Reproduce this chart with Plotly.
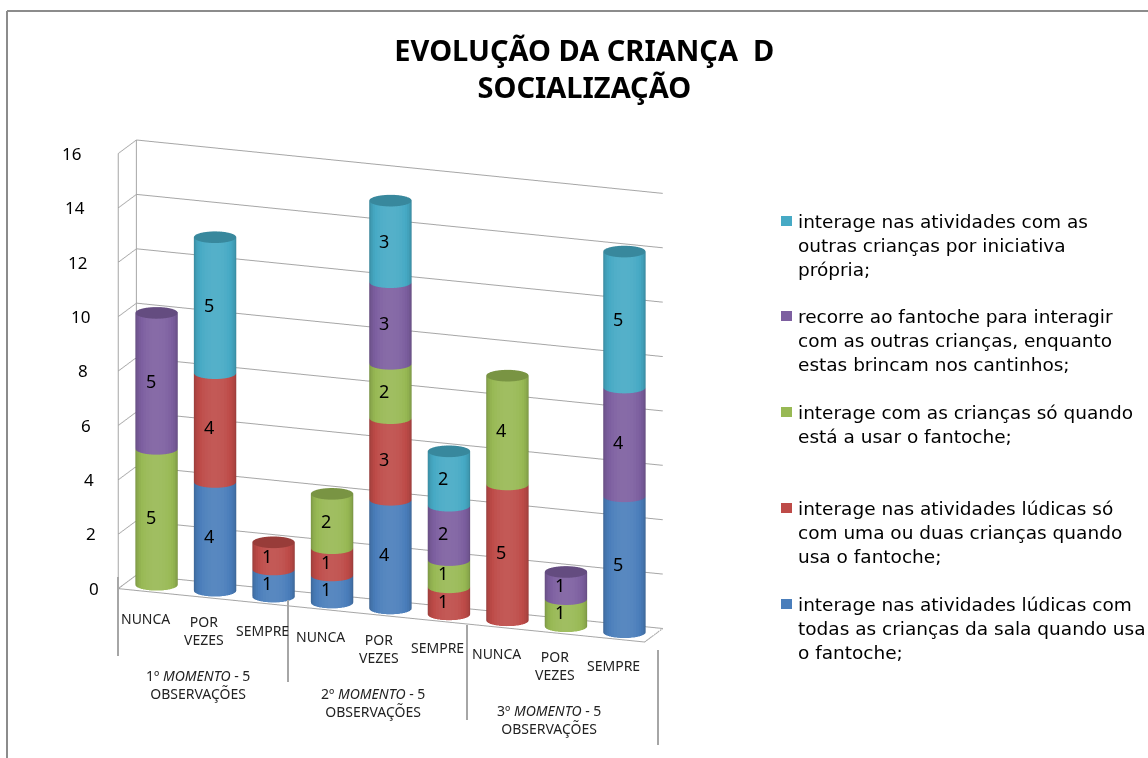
import numpy as np
import plotly.graph_objects as go

categories = ["NUNCA", "POR<br>VEZES", "SEMPRE"] * 3
groups = ["1º <i>MOMENTO</i> - 5<br>OBSERVAÇÕES", "2º <i>MOMENTO</i> - 5<br>OBSERVAÇÕES", "3º <i>MOMENTO</i> - 5<br>OBSERVAÇÕES"]
z_ticks = [0, 2, 4, 6, 8, 10, 12, 14, 16]

# stacked from the floor up
s_blue = [0, 4, 1, 1, 4, 0, 0, 0, 5]
s_red = [0, 4, 1, 1, 3, 1, 5, 0, 0]
s_green = [5, 0, 0, 2, 2, 1, 4, 1, 0]
s_purple = [5, 0, 0, 0, 3, 2, 0, 1, 4]
s_cyan = [0, 5, 0, 0, 3, 2, 0, 0, 5]

names = [
    "interage nas atividades lúdicas com<br>todas as crianças da sala quando usa<br>o fantoche;",
    "interage nas atividades lúdicas só<br>com uma ou duas crianças quando<br>usa o fantoche;",
    "interage com as crianças só quando<br>está a usar o fantoche;",
    "recorre ao fantoche para interagir<br>com as outras crianças, enquanto<br>estas brincam nos cantinhos;",
    "interage nas atividades com as<br>outras crianças por iniciativa<br>própria;",
]
series = [s_blue, s_red, s_green, s_purple, s_cyan]
colors = ["#4a7ebb", "#be4b48", "#98b954", "#7d5fa0", "#46aac5"]

RADIUS = 0.34
N = 40
XR = [-0.5, 8.5]
YR = [-0.42, 0.42]
ZR = [0, 16]
EYE = dict(x=0.85, y=-2.30, z=0.70)


def shade(hex_color, f):
    rgb = [int(hex_color[i:i + 2], 16) for i in (1, 3, 5)]
    if f > 1:
        rgb = [c + (255 - c) * (f - 1) for c in rgb]
    else:
        rgb = [c * f for c in rgb]
    return "rgb(%d,%d,%d)" % tuple(rgb)


def cylinders(values, bases, color):
    xs, ys, zs, i, j, k, fc = [], [], [], [], [], [], []
    theta = np.linspace(0, 2 * np.pi, N, endpoint=False)
    look = np.array([EYE["x"], EYE["y"]]) / np.hypot(EYE["x"], EYE["y"])
    for pos, (val, base) in enumerate(zip(values, bases)):
        if val == 0:
            continue
        start = len(xs)
        for z in (base, base + val):
            xs += list(pos + RADIUS * np.cos(theta))
            ys += list(RADIUS * np.sin(theta))
            zs += [z] * N
        xs.append(pos)
        ys.append(0)
        zs.append(base + val)
        centre = start + 2 * N
        for a in range(N):
            b = (a + 1) % N
            mid = theta[a] + np.pi / N
            # brightest facing the viewer, darker round the edges
            facing = max(0.0, np.cos(mid) * look[0] + np.sin(mid) * look[1])
            f = 0.70 + 0.38 * facing ** 0.7
            i += [start + a, start + b]
            j += [start + b, start + N + b]
            k += [start + N + a, start + N + a]
            fc += [shade(color, f)] * 2
            i.append(start + N + a)
            j.append(start + N + b)
            k.append(centre)
            fc.append(shade(color, 0.8))
    return xs, ys, zs, i, j, k, fc


fig = go.Figure()
bases = np.zeros(9)
scene_ann = []
for name, values, color in zip(names, series, colors):
    xs, ys, zs, i, j, k, fc = cylinders(values, bases, color)
    fig.add_trace(go.Mesh3d(
        x=xs, y=ys, z=zs, i=i, j=j, k=k, facecolor=fc, flatshading=True, name=name.replace("<br>", " "),
        lighting=dict(ambient=1, diffuse=0, specular=0, roughness=1, fresnel=0), hoverinfo="name",
    ))
    for pos, val in enumerate(values):
        if val:
            scene_ann.append(dict(
                x=pos, y=0, z=bases[pos] + val / 2, text=str(val), showarrow=False, xshift=-6,
                font=dict(size=18, color="black"),
            ))
    bases = bases + np.array(values)

# floor outline and the two corner uprights of the side wall
fig.add_trace(go.Scatter3d(
    x=[XR[0], XR[1], XR[1], XR[0], XR[0], XR[0], None, XR[0], XR[0]],
    y=[YR[0], YR[0], YR[1], YR[1], YR[0], YR[0], None, YR[1], YR[1]],
    z=[0, 0, 0, 0, 0, 16, None, 0, 16],
    mode="lines", line=dict(color="#a6a6a6", width=2), hoverinfo="skip", showlegend=False,
))

# value labels follow the lean of the original's axis
for v in z_ticks:
    scene_ann.append(dict(
        x=XR[0], y=YR[0], z=v, text=str(v), showarrow=False, xshift=-24 - v * 1.4,
        font=dict(size=17, color="black"),
    ))
for pos, label in enumerate(categories):
    scene_ann.append(dict(
        x=pos, y=YR[0], z=0, text=label, showarrow=False, yshift=-33 if "<br>" in label else -27, xshift=-2,
        font=dict(size=14, color="#222222"),
    ))
for g, label in enumerate(groups):
    scene_ann.append(dict(
        x=3 * g + 1, y=YR[0], z=0, text=label, showarrow=False, yshift=-87, xshift=-8,
        font=dict(size=14, color="#222222"),
    ))

axis_off = dict(showgrid=False, zeroline=False, showticklabels=False, title="", showbackground=False,
                showspikes=False, ticks="", showline=False)
fig.update_layout(
    width=1148, height=758,
    margin=dict(l=0, r=0, t=0, b=0),
    paper_bgcolor="white",
    showlegend=False,
    font=dict(family="Noto Sans"),
    title=dict(
        text="EVOLUÇÃO DA CRIANÇA  D<br>SOCIALIZAÇÃO", x=0.509, xanchor="center", y=0.92, yanchor="top",
        font=dict(size=29, color="black", family="Noto Sans", weight="bold"),
    ),
    scene=dict(
        domain=dict(x=[0.0, 0.68], y=[0.007, 0.962]),
        aspectmode="manual",
        aspectratio=dict(x=1.55, y=0.145, z=1.25),
        camera=dict(eye=EYE, center=dict(x=0, y=0, z=0), up=dict(x=0, y=0, z=1),
                    projection=dict(type="orthographic")),
        xaxis=dict(axis_off, range=XR),
        yaxis=dict(axis_off, range=YR),
        zaxis=dict(
            range=ZR, tickvals=z_ticks, showgrid=True, gridcolor="#a6a6a6", gridwidth=2, showticklabels=False,
            zeroline=False, showbackground=False, title="", showspikes=False, ticks="",
        ),
        annotations=scene_ann,
    ),
    shapes=[
        dict(type="line", xref="paper", yref="paper", x0=7 / 1148, x1=7 / 1148, y0=0, y1=1 - 11 / 758,
             line=dict(color="#8c8c8c", width=2)),
        dict(type="line", xref="paper", yref="paper", x0=7 / 1148, x1=1, y0=1 - 11 / 758, y1=1 - 11 / 758,
             line=dict(color="#8c8c8c", width=2)),
    ],
)

# separators between the three moments, below the floor
for sx, top, bottom in [(118, 577, 656), (288, 600, 682), (467, 625, 720), (658, 650, 745)]:
    fig.add_shape(type="line", xref="paper", yref="paper", x0=sx / 1148, x1=sx / 1148,
                  y0=1 - top / 758, y1=1 - bottom / 758, line=dict(color="#a6a6a6", width=2))

# legend, top entry first, with the uneven gaps of the original
legend_y = [221, 316, 412, 508, 604]
for name, color, ly in zip(names[::-1], colors[::-1], legend_y):
    fig.add_shape(type="rect", xref="paper", yref="paper", x0=781 / 1148, x1=792 / 1148,
                  y0=1 - (ly + 5) / 758, y1=1 - (ly - 5) / 758, fillcolor=color, line_width=0)
    fig.add_annotation(xref="paper", yref="paper", x=796 / 1148, y=1 - (ly - 12) / 758, xanchor="left", yanchor="top",
                       text=name, showarrow=False, align="left", font=dict(size=18.5, color="black", family="DejaVu Sans"))

fig.write_html("out.html", config=dict(displayModeBar=False), post_script="document.body.style.margin = '0';")
